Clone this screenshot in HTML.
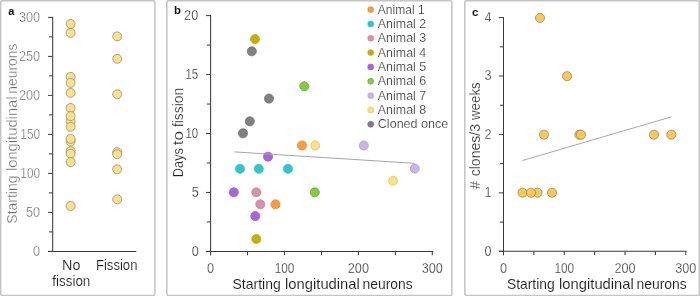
<!DOCTYPE html>
<html><head><meta charset="utf-8"><title>Figure</title>
<style>html,body{margin:0;padding:0;background:#fff;}body{width:700px;height:296px;overflow:hidden;}svg{display:block;will-change:transform;}text{font-family:"Liberation Sans", sans-serif;fill:#1c1c1c;stroke:#fff;stroke-width:0.4px;}</style></head><body>
<svg width="700" height="296" viewBox="0 0 700 296">
<rect x="0" y="0" width="700" height="296" fill="#ffffff"/>
<rect x="0.70" y="0.70" width="154.20" height="294.70" rx="1.5" fill="#fff" stroke="#c4c4c4" stroke-width="1.50"/>
<rect x="166.85" y="0.70" width="285.05" height="294.70" rx="1.5" fill="#fff" stroke="#c4c4c4" stroke-width="1.50"/>
<rect x="464.80" y="0.70" width="234.50" height="294.70" rx="1.5" fill="#fff" stroke="#c4c4c4" stroke-width="1.50"/>
<line x1="52.70" y1="16.80" x2="52.70" y2="252.00" stroke="#3a3a3a" stroke-width="1.05"/>
<line x1="48.00" y1="251.40" x2="136.30" y2="251.40" stroke="#3a3a3a" stroke-width="1.05"/>
<line x1="48.00" y1="251.40" x2="52.70" y2="251.40" stroke="#3a3a3a" stroke-width="1.00"/>
<line x1="49.00" y1="231.90" x2="52.70" y2="231.90" stroke="#3a3a3a" stroke-width="1.00"/>
<line x1="48.00" y1="212.40" x2="52.70" y2="212.40" stroke="#3a3a3a" stroke-width="1.00"/>
<line x1="49.00" y1="192.90" x2="52.70" y2="192.90" stroke="#3a3a3a" stroke-width="1.00"/>
<line x1="48.00" y1="173.40" x2="52.70" y2="173.40" stroke="#3a3a3a" stroke-width="1.00"/>
<line x1="49.00" y1="153.90" x2="52.70" y2="153.90" stroke="#3a3a3a" stroke-width="1.00"/>
<line x1="48.00" y1="134.40" x2="52.70" y2="134.40" stroke="#3a3a3a" stroke-width="1.00"/>
<line x1="49.00" y1="114.90" x2="52.70" y2="114.90" stroke="#3a3a3a" stroke-width="1.00"/>
<line x1="48.00" y1="95.40" x2="52.70" y2="95.40" stroke="#3a3a3a" stroke-width="1.00"/>
<line x1="49.00" y1="75.90" x2="52.70" y2="75.90" stroke="#3a3a3a" stroke-width="1.00"/>
<line x1="48.00" y1="56.40" x2="52.70" y2="56.40" stroke="#3a3a3a" stroke-width="1.00"/>
<line x1="49.00" y1="36.90" x2="52.70" y2="36.90" stroke="#3a3a3a" stroke-width="1.00"/>
<line x1="48.00" y1="17.40" x2="52.70" y2="17.40" stroke="#3a3a3a" stroke-width="1.00"/>
<text x="40.10" y="255.80" font-size="14.00" text-anchor="end" textLength="7.05" lengthAdjust="spacingAndGlyphs" style="fill:#585858;" >0</text>
<text x="40.10" y="216.80" font-size="14.00" text-anchor="end" textLength="14.10" lengthAdjust="spacingAndGlyphs" style="fill:#585858;" >50</text>
<text x="40.10" y="177.80" font-size="14.00" text-anchor="end" textLength="19.75" lengthAdjust="spacingAndGlyphs" style="fill:#585858;" >100</text>
<text x="40.10" y="138.80" font-size="14.00" text-anchor="end" textLength="19.75" lengthAdjust="spacingAndGlyphs" style="fill:#585858;" >150</text>
<text x="40.10" y="99.80" font-size="14.00" text-anchor="end" textLength="21.15" lengthAdjust="spacingAndGlyphs" style="fill:#585858;" >200</text>
<text x="40.10" y="60.80" font-size="14.00" text-anchor="end" textLength="21.15" lengthAdjust="spacingAndGlyphs" style="fill:#585858;" >250</text>
<text x="40.10" y="21.80" font-size="14.00" text-anchor="end" textLength="21.15" lengthAdjust="spacingAndGlyphs" style="fill:#585858;" >300</text>
<text x="11.30" y="14.80" font-size="11.00" text-anchor="middle" style="fill:#111;font-weight:bold;stroke-width:0.00px;" >a</text>
<text transform="translate(16.70,223.70) rotate(-90)" font-size="14.60" text-anchor="start" textLength="48.20" lengthAdjust="spacingAndGlyphs" style="fill:#6a6a6a;stroke-width:0.30px">Starting</text>
<text transform="translate(16.70,171.10) rotate(-90)" font-size="14.60" text-anchor="start" textLength="74.70" lengthAdjust="spacingAndGlyphs" style="fill:#6a6a6a;stroke-width:0.30px">longitudinal</text>
<text transform="translate(16.70,93.70) rotate(-90)" font-size="14.60" text-anchor="start" textLength="50.20" lengthAdjust="spacingAndGlyphs" style="fill:#6a6a6a;stroke-width:0.30px">neurons</text>
<text x="71.30" y="269.50" font-size="14.00" text-anchor="middle" textLength="18.40" lengthAdjust="spacingAndGlyphs" style="stroke-width:0.15px;" >No</text>
<text x="71.30" y="286.30" font-size="14.00" text-anchor="middle" textLength="38.00" lengthAdjust="spacingAndGlyphs" style="stroke-width:0.15px;" >fission</text>
<text x="116.70" y="269.50" font-size="14.00" text-anchor="middle" textLength="41.50" lengthAdjust="spacingAndGlyphs" style="stroke-width:0.15px;" >Fission</text>
<circle cx="70.60" cy="23.90" r="4.50" fill="#fbe08d" stroke="#8d8468" stroke-width="0.70"/>
<circle cx="70.60" cy="32.90" r="4.50" fill="#fbe08d" stroke="#8d8468" stroke-width="0.70"/>
<circle cx="70.60" cy="76.90" r="4.50" fill="#fbe08d" stroke="#8d8468" stroke-width="0.70"/>
<circle cx="70.60" cy="82.90" r="4.50" fill="#fbe08d" stroke="#8d8468" stroke-width="0.70"/>
<circle cx="70.60" cy="92.90" r="4.50" fill="#fbe08d" stroke="#8d8468" stroke-width="0.70"/>
<circle cx="70.60" cy="108.00" r="4.50" fill="#fbe08d" stroke="#8d8468" stroke-width="0.70"/>
<circle cx="70.60" cy="121.40" r="4.50" fill="#fbe08d" stroke="#8d8468" stroke-width="0.70"/>
<circle cx="70.60" cy="116.10" r="4.50" fill="#fbe08d" stroke="#8d8468" stroke-width="0.70"/>
<circle cx="70.60" cy="126.80" r="4.50" fill="#fbe08d" stroke="#8d8468" stroke-width="0.70"/>
<circle cx="70.60" cy="141.70" r="4.50" fill="#fbe08d" stroke="#8d8468" stroke-width="0.70"/>
<circle cx="70.60" cy="138.90" r="4.50" fill="#fbe08d" stroke="#8d8468" stroke-width="0.70"/>
<circle cx="70.60" cy="151.10" r="4.50" fill="#fbe08d" stroke="#8d8468" stroke-width="0.70"/>
<circle cx="70.60" cy="153.70" r="4.50" fill="#fbe08d" stroke="#8d8468" stroke-width="0.70"/>
<circle cx="70.60" cy="162.10" r="4.50" fill="#fbe08d" stroke="#8d8468" stroke-width="0.70"/>
<circle cx="70.60" cy="206.00" r="4.50" fill="#fbe08d" stroke="#8d8468" stroke-width="0.70"/>
<circle cx="117.20" cy="36.40" r="4.50" fill="#fbe08d" stroke="#8d8468" stroke-width="0.70"/>
<circle cx="117.20" cy="58.80" r="4.50" fill="#fbe08d" stroke="#8d8468" stroke-width="0.70"/>
<circle cx="117.20" cy="94.30" r="4.50" fill="#fbe08d" stroke="#8d8468" stroke-width="0.70"/>
<circle cx="117.20" cy="152.10" r="4.50" fill="#fbe08d" stroke="#8d8468" stroke-width="0.70"/>
<circle cx="117.20" cy="154.30" r="4.50" fill="#fbe08d" stroke="#8d8468" stroke-width="0.70"/>
<circle cx="117.20" cy="169.30" r="4.50" fill="#fbe08d" stroke="#8d8468" stroke-width="0.70"/>
<circle cx="117.20" cy="199.30" r="4.50" fill="#fbe08d" stroke="#8d8468" stroke-width="0.70"/>
<line x1="210.60" y1="15.10" x2="210.60" y2="255.40" stroke="#3a3a3a" stroke-width="1.05"/>
<line x1="205.90" y1="251.40" x2="432.90" y2="251.40" stroke="#3a3a3a" stroke-width="1.05"/>
<line x1="205.90" y1="251.40" x2="210.60" y2="251.40" stroke="#3a3a3a" stroke-width="1.00"/>
<line x1="206.90" y1="221.93" x2="210.60" y2="221.93" stroke="#3a3a3a" stroke-width="1.00"/>
<line x1="205.90" y1="192.45" x2="210.60" y2="192.45" stroke="#3a3a3a" stroke-width="1.00"/>
<line x1="206.90" y1="162.98" x2="210.60" y2="162.98" stroke="#3a3a3a" stroke-width="1.00"/>
<line x1="205.90" y1="133.50" x2="210.60" y2="133.50" stroke="#3a3a3a" stroke-width="1.00"/>
<line x1="206.90" y1="104.03" x2="210.60" y2="104.03" stroke="#3a3a3a" stroke-width="1.00"/>
<line x1="205.90" y1="74.55" x2="210.60" y2="74.55" stroke="#3a3a3a" stroke-width="1.00"/>
<line x1="206.90" y1="45.08" x2="210.60" y2="45.08" stroke="#3a3a3a" stroke-width="1.00"/>
<line x1="205.90" y1="15.60" x2="210.60" y2="15.60" stroke="#3a3a3a" stroke-width="1.00"/>
<line x1="247.55" y1="251.40" x2="247.55" y2="255.20" stroke="#3a3a3a" stroke-width="1.05"/>
<line x1="284.50" y1="251.40" x2="284.50" y2="255.20" stroke="#3a3a3a" stroke-width="1.05"/>
<line x1="321.45" y1="251.40" x2="321.45" y2="255.20" stroke="#3a3a3a" stroke-width="1.05"/>
<line x1="358.40" y1="251.40" x2="358.40" y2="255.20" stroke="#3a3a3a" stroke-width="1.05"/>
<line x1="395.35" y1="251.40" x2="395.35" y2="255.20" stroke="#3a3a3a" stroke-width="1.05"/>
<line x1="432.30" y1="251.40" x2="432.30" y2="255.20" stroke="#3a3a3a" stroke-width="1.05"/>
<text x="198.80" y="255.60" font-size="14.00" text-anchor="end" textLength="7.05" lengthAdjust="spacingAndGlyphs" style="fill:#2c2c2c;stroke-width:0.28px;" >0</text>
<text x="198.80" y="196.65" font-size="14.00" text-anchor="end" textLength="7.05" lengthAdjust="spacingAndGlyphs" style="fill:#2c2c2c;stroke-width:0.28px;" >5</text>
<text x="198.20" y="137.70" font-size="14.00" text-anchor="end" textLength="12.70" lengthAdjust="spacingAndGlyphs" style="fill:#2c2c2c;stroke-width:0.28px;" >10</text>
<text x="198.20" y="78.75" font-size="14.00" text-anchor="end" textLength="12.70" lengthAdjust="spacingAndGlyphs" style="fill:#2c2c2c;stroke-width:0.28px;" >15</text>
<text x="198.20" y="19.80" font-size="14.00" text-anchor="end" textLength="14.10" lengthAdjust="spacingAndGlyphs" style="fill:#2c2c2c;stroke-width:0.28px;" >20</text>
<text x="210.60" y="272.60" font-size="14.00" text-anchor="middle" textLength="7.05" lengthAdjust="spacingAndGlyphs" style="fill:#2c2c2c;stroke-width:0.28px;" >0</text>
<text x="284.50" y="272.60" font-size="14.00" text-anchor="middle" textLength="19.75" lengthAdjust="spacingAndGlyphs" style="fill:#2c2c2c;stroke-width:0.28px;" >100</text>
<text x="358.40" y="272.60" font-size="14.00" text-anchor="middle" textLength="21.15" lengthAdjust="spacingAndGlyphs" style="fill:#2c2c2c;stroke-width:0.28px;" >200</text>
<text x="432.30" y="272.60" font-size="14.00" text-anchor="middle" textLength="21.15" lengthAdjust="spacingAndGlyphs" style="fill:#2c2c2c;stroke-width:0.28px;" >300</text>
<text x="232.50" y="288.80" font-size="14.60" text-anchor="start" textLength="48.20" lengthAdjust="spacingAndGlyphs" style="fill:#1c1c1c;stroke-width:0.10px;" >Starting</text>
<text x="285.10" y="288.80" font-size="14.60" text-anchor="start" textLength="74.70" lengthAdjust="spacingAndGlyphs" style="fill:#1c1c1c;stroke-width:0.10px;" >longitudinal</text>
<text x="362.50" y="288.80" font-size="14.60" text-anchor="start" textLength="50.20" lengthAdjust="spacingAndGlyphs" style="fill:#1c1c1c;stroke-width:0.10px;" >neurons</text>
<text transform="translate(182.70,177.20) rotate(-90)" font-size="14.60" text-anchor="start" textLength="29.10" lengthAdjust="spacingAndGlyphs" style="fill:#1c1c1c;stroke-width:0.20px">Days</text>
<text transform="translate(182.70,145.30) rotate(-90)" font-size="14.60" text-anchor="start" textLength="14.20" lengthAdjust="spacingAndGlyphs" style="fill:#1c1c1c;stroke-width:0.20px">to</text>
<text transform="translate(182.70,127.10) rotate(-90)" font-size="14.60" text-anchor="start" textLength="39.40" lengthAdjust="spacingAndGlyphs" style="fill:#1c1c1c;stroke-width:0.20px">fission</text>
<text x="177.40" y="14.20" font-size="11.30" text-anchor="middle" style="fill:#111;font-weight:bold;stroke-width:0.00px;" >b</text>
<circle cx="255.00" cy="39.10" r="4.55" fill="#c3ae0c" stroke="#c3ae0c" stroke-width="0.80"/>
<circle cx="251.80" cy="51.30" r="4.55" fill="#808080" stroke="#747474" stroke-width="0.80"/>
<circle cx="304.30" cy="86.30" r="4.50" fill="#86ca42" stroke="#70ad36" stroke-width="0.90"/>
<circle cx="269.00" cy="98.60" r="4.55" fill="#808080" stroke="#747474" stroke-width="0.80"/>
<circle cx="249.80" cy="121.30" r="4.55" fill="#808080" stroke="#747474" stroke-width="0.80"/>
<circle cx="243.00" cy="133.30" r="4.55" fill="#808080" stroke="#747474" stroke-width="0.80"/>
<circle cx="302.00" cy="145.50" r="4.50" fill="#f59c45" stroke="#f08c2e" stroke-width="0.90"/>
<circle cx="315.30" cy="145.50" r="4.30" fill="#f6dfa6" stroke="#ecd94c" stroke-width="1.30"/>
<circle cx="363.80" cy="145.50" r="4.50" fill="#c6b7e4" stroke="#b4a1dc" stroke-width="0.90"/>
<circle cx="268.00" cy="156.70" r="4.55" fill="#a766d8" stroke="#a25cd2" stroke-width="0.80"/>
<circle cx="414.80" cy="168.60" r="4.50" fill="#c6b7e4" stroke="#b4a1dc" stroke-width="0.90"/>
<circle cx="393.00" cy="180.80" r="4.30" fill="#f6dfa6" stroke="#ecd94c" stroke-width="1.30"/>
<circle cx="240.00" cy="168.80" r="4.55" fill="#2fc6c8" stroke="#35c3c6" stroke-width="0.80"/>
<circle cx="258.80" cy="168.80" r="4.55" fill="#2fc6c8" stroke="#35c3c6" stroke-width="0.80"/>
<circle cx="288.00" cy="168.80" r="4.55" fill="#2fc6c8" stroke="#35c3c6" stroke-width="0.80"/>
<circle cx="233.80" cy="192.30" r="4.55" fill="#a766d8" stroke="#a25cd2" stroke-width="0.80"/>
<circle cx="256.30" cy="192.30" r="4.50" fill="#d592a9" stroke="#d7809f" stroke-width="0.90"/>
<circle cx="314.80" cy="192.30" r="4.50" fill="#86ca42" stroke="#70ad36" stroke-width="0.90"/>
<circle cx="260.30" cy="204.30" r="4.50" fill="#d592a9" stroke="#d7809f" stroke-width="0.90"/>
<circle cx="275.50" cy="204.30" r="4.50" fill="#f59c45" stroke="#f08c2e" stroke-width="0.90"/>
<circle cx="255.30" cy="216.10" r="4.55" fill="#a766d8" stroke="#a25cd2" stroke-width="0.80"/>
<circle cx="256.30" cy="239.00" r="4.55" fill="#c3ae0c" stroke="#c3ae0c" stroke-width="0.80"/>
<line x1="234.30" y1="151.90" x2="414.50" y2="163.30" stroke="#a6a6a6" stroke-width="1.00"/>
<circle cx="370.70" cy="9.60" r="2.94" fill="#f59c45" stroke="#f08c2e" stroke-width="0.72"/>
<text x="377.80" y="13.50" font-size="13.00" text-anchor="start" textLength="46.80" lengthAdjust="spacingAndGlyphs" style="fill:#333333;stroke-width:0.20px;" >Animal 1</text>
<circle cx="370.70" cy="23.94" r="2.98" fill="#2fc6c8" stroke="#35c3c6" stroke-width="0.64"/>
<text x="377.80" y="27.84" font-size="13.00" text-anchor="start" textLength="48.40" lengthAdjust="spacingAndGlyphs" style="fill:#333333;stroke-width:0.20px;" >Animal 2</text>
<circle cx="370.70" cy="38.28" r="2.94" fill="#d592a9" stroke="#d7809f" stroke-width="0.72"/>
<text x="377.80" y="42.18" font-size="13.00" text-anchor="start" textLength="48.40" lengthAdjust="spacingAndGlyphs" style="fill:#333333;stroke-width:0.20px;" >Animal 3</text>
<circle cx="370.70" cy="52.62" r="2.98" fill="#c3ae0c" stroke="#c3ae0c" stroke-width="0.64"/>
<text x="377.80" y="56.52" font-size="13.00" text-anchor="start" textLength="48.40" lengthAdjust="spacingAndGlyphs" style="fill:#333333;stroke-width:0.20px;" >Animal 4</text>
<circle cx="370.70" cy="66.96" r="2.98" fill="#a766d8" stroke="#a25cd2" stroke-width="0.64"/>
<text x="377.80" y="70.86" font-size="13.00" text-anchor="start" textLength="48.40" lengthAdjust="spacingAndGlyphs" style="fill:#333333;stroke-width:0.20px;" >Animal 5</text>
<circle cx="370.70" cy="81.30" r="2.94" fill="#86ca42" stroke="#70ad36" stroke-width="0.72"/>
<text x="377.80" y="85.20" font-size="13.00" text-anchor="start" textLength="48.40" lengthAdjust="spacingAndGlyphs" style="fill:#333333;stroke-width:0.20px;" >Animal 6</text>
<circle cx="370.70" cy="95.64" r="2.94" fill="#c6b7e4" stroke="#b4a1dc" stroke-width="0.72"/>
<text x="377.80" y="99.54" font-size="13.00" text-anchor="start" textLength="48.40" lengthAdjust="spacingAndGlyphs" style="fill:#333333;stroke-width:0.20px;" >Animal 7</text>
<circle cx="370.70" cy="109.98" r="2.78" fill="#f6dfa6" stroke="#ecd94c" stroke-width="1.04"/>
<text x="377.80" y="113.88" font-size="13.00" text-anchor="start" textLength="48.40" lengthAdjust="spacingAndGlyphs" style="fill:#333333;stroke-width:0.20px;" >Animal 8</text>
<circle cx="370.70" cy="124.32" r="2.98" fill="#808080" stroke="#747474" stroke-width="0.64"/>
<text x="377.80" y="128.22" font-size="13.00" text-anchor="start" textLength="70.50" lengthAdjust="spacingAndGlyphs" style="fill:#333333;stroke-width:0.20px;" >Cloned once</text>
<line x1="503.50" y1="17.10" x2="503.50" y2="255.30" stroke="#3a3a3a" stroke-width="1.05"/>
<line x1="498.80" y1="251.30" x2="686.40" y2="251.30" stroke="#3a3a3a" stroke-width="1.05"/>
<line x1="498.80" y1="251.30" x2="503.50" y2="251.30" stroke="#3a3a3a" stroke-width="1.00"/>
<line x1="499.80" y1="222.09" x2="503.50" y2="222.09" stroke="#3a3a3a" stroke-width="1.00"/>
<line x1="498.80" y1="192.88" x2="503.50" y2="192.88" stroke="#3a3a3a" stroke-width="1.00"/>
<line x1="499.80" y1="163.66" x2="503.50" y2="163.66" stroke="#3a3a3a" stroke-width="1.00"/>
<line x1="498.80" y1="134.45" x2="503.50" y2="134.45" stroke="#3a3a3a" stroke-width="1.00"/>
<line x1="499.80" y1="105.24" x2="503.50" y2="105.24" stroke="#3a3a3a" stroke-width="1.00"/>
<line x1="498.80" y1="76.03" x2="503.50" y2="76.03" stroke="#3a3a3a" stroke-width="1.00"/>
<line x1="499.80" y1="46.81" x2="503.50" y2="46.81" stroke="#3a3a3a" stroke-width="1.00"/>
<line x1="498.80" y1="17.60" x2="503.50" y2="17.60" stroke="#3a3a3a" stroke-width="1.00"/>
<line x1="533.88" y1="251.30" x2="533.88" y2="255.10" stroke="#3a3a3a" stroke-width="1.05"/>
<line x1="564.27" y1="251.30" x2="564.27" y2="255.10" stroke="#3a3a3a" stroke-width="1.05"/>
<line x1="594.65" y1="251.30" x2="594.65" y2="255.10" stroke="#3a3a3a" stroke-width="1.05"/>
<line x1="625.03" y1="251.30" x2="625.03" y2="255.10" stroke="#3a3a3a" stroke-width="1.05"/>
<line x1="655.42" y1="251.30" x2="655.42" y2="255.10" stroke="#3a3a3a" stroke-width="1.05"/>
<line x1="685.80" y1="251.30" x2="685.80" y2="255.10" stroke="#3a3a3a" stroke-width="1.05"/>
<text x="491.60" y="255.70" font-size="14.00" text-anchor="end" textLength="7.05" lengthAdjust="spacingAndGlyphs" style="fill:#2e2e2e;stroke-width:0.30px;" >0</text>
<text x="491.60" y="197.28" font-size="14.00" text-anchor="end" textLength="7.05" lengthAdjust="spacingAndGlyphs" style="fill:#2e2e2e;stroke-width:0.30px;" >1</text>
<text x="491.60" y="138.85" font-size="14.00" text-anchor="end" textLength="7.05" lengthAdjust="spacingAndGlyphs" style="fill:#2e2e2e;stroke-width:0.30px;" >2</text>
<text x="491.60" y="80.43" font-size="14.00" text-anchor="end" textLength="7.05" lengthAdjust="spacingAndGlyphs" style="fill:#2e2e2e;stroke-width:0.30px;" >3</text>
<text x="491.60" y="22.00" font-size="14.00" text-anchor="end" textLength="7.05" lengthAdjust="spacingAndGlyphs" style="fill:#2e2e2e;stroke-width:0.30px;" >4</text>
<text x="503.50" y="272.60" font-size="14.00" text-anchor="middle" textLength="7.05" lengthAdjust="spacingAndGlyphs" style="fill:#2e2e2e;stroke-width:0.30px;" >0</text>
<text x="564.27" y="272.60" font-size="14.00" text-anchor="middle" textLength="19.75" lengthAdjust="spacingAndGlyphs" style="fill:#2e2e2e;stroke-width:0.30px;" >100</text>
<text x="625.03" y="272.60" font-size="14.00" text-anchor="middle" textLength="21.15" lengthAdjust="spacingAndGlyphs" style="fill:#2e2e2e;stroke-width:0.30px;" >200</text>
<text x="685.80" y="272.60" font-size="14.00" text-anchor="middle" textLength="21.15" lengthAdjust="spacingAndGlyphs" style="fill:#2e2e2e;stroke-width:0.30px;" >300</text>
<text x="506.90" y="288.80" font-size="14.60" text-anchor="start" textLength="47.80" lengthAdjust="spacingAndGlyphs" style="fill:#1c1c1c;stroke-width:0.10px;" >Starting</text>
<text x="559.10" y="288.80" font-size="14.60" text-anchor="start" textLength="74.70" lengthAdjust="spacingAndGlyphs" style="fill:#1c1c1c;stroke-width:0.10px;" >longitudinal</text>
<text x="636.50" y="288.80" font-size="14.60" text-anchor="start" textLength="50.20" lengthAdjust="spacingAndGlyphs" style="fill:#1c1c1c;stroke-width:0.10px;" >neurons</text>
<text transform="translate(480.20,189.30) rotate(-90)" font-size="14.60" text-anchor="start" textLength="8.10" lengthAdjust="spacingAndGlyphs" style="fill:#1c1c1c;stroke-width:0.20px">#</text>
<text transform="translate(480.20,176.30) rotate(-90)" font-size="14.60" text-anchor="start" textLength="52.30" lengthAdjust="spacingAndGlyphs" style="fill:#1c1c1c;stroke-width:0.20px">clones/3</text>
<text transform="translate(480.20,120.00) rotate(-90)" font-size="14.60" text-anchor="start" textLength="37.70" lengthAdjust="spacingAndGlyphs" style="fill:#1c1c1c;stroke-width:0.20px">weeks</text>
<text x="475.30" y="15.50" font-size="11.50" text-anchor="middle" style="fill:#111;font-weight:bold;stroke-width:0.00px;" >c</text>
<line x1="522.50" y1="160.50" x2="671.50" y2="116.80" stroke="#a9a9a9" stroke-width="1.00"/>
<circle cx="540.00" cy="17.90" r="4.55" fill="#fdc751" stroke="#8e8a76" stroke-width="0.80"/>
<circle cx="567.10" cy="76.20" r="4.55" fill="#fdc751" stroke="#8e8a76" stroke-width="0.80"/>
<circle cx="544.00" cy="134.70" r="4.55" fill="#fdc751" stroke="#8e8a76" stroke-width="0.80"/>
<circle cx="579.30" cy="134.70" r="4.55" fill="#fdc751" stroke="#8e8a76" stroke-width="0.80"/>
<circle cx="581.00" cy="134.70" r="4.55" fill="#fdc751" stroke="#8e8a76" stroke-width="0.80"/>
<circle cx="654.00" cy="134.70" r="4.55" fill="#fdc751" stroke="#8e8a76" stroke-width="0.80"/>
<circle cx="671.30" cy="134.70" r="4.55" fill="#fdc751" stroke="#8e8a76" stroke-width="0.80"/>
<circle cx="522.50" cy="192.70" r="4.55" fill="#fdc751" stroke="#8e8a76" stroke-width="0.80"/>
<circle cx="537.50" cy="192.70" r="4.55" fill="#fdc751" stroke="#8e8a76" stroke-width="0.80"/>
<circle cx="531.00" cy="192.70" r="4.55" fill="#fdc751" stroke="#8e8a76" stroke-width="0.80"/>
<circle cx="552.00" cy="192.70" r="4.55" fill="#fdc751" stroke="#8e8a76" stroke-width="0.80"/>
</svg></body></html>
